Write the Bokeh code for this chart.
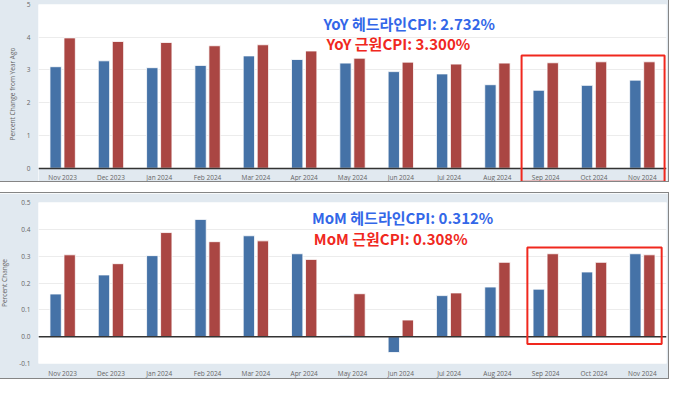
from bokeh.plotting import figure
from bokeh.layouts import column
from bokeh.models import (Range1d, FixedTicker, BoxAnnotation, Label, Span,
                          ColumnDataSource, PrintfTickFormatter)
from bokeh.transform import dodge
from bokeh.embed import file_html
from bokeh.resources import INLINE

months = ["Nov 2023", "Dec 2023", "Jan 2024", "Feb 2024", "Mar 2024", "Apr 2024",
          "May 2024", "Jun 2024", "Jul 2024", "Aug 2024", "Sep 2024", "Oct 2024",
          "Nov 2024"]
yoy_headline = [3.10, 3.28, 3.07, 3.14, 3.43, 3.32, 3.21, 2.95, 2.88, 2.55, 2.38, 2.53, 2.69]
yoy_core = [3.98, 3.87, 3.84, 3.74, 3.77, 3.58, 3.36, 3.24, 3.18, 3.21, 3.22, 3.25, 3.25]
mom_headline = [0.159, 0.230, 0.302, 0.437, 0.376, 0.309, 0.004, -0.059, 0.153, 0.185,
                0.177, 0.241, 0.309]
mom_core = [0.305, 0.272, 0.388, 0.354, 0.357, 0.288, 0.160, 0.062, 0.163, 0.277,
            0.309, 0.277, 0.305]
yoy_ticks = [0, 1, 2, 3, 4, 5]
mom_ticks = [-0.1, 0.0, 0.1, 0.2, 0.3, 0.4, 0.5]
yoy_title_head = "YoY 헤드라인CPI: 2.732%"
yoy_title_core = "YoY 근원CPI: 3.300%"
mom_title_head = "MoM 헤드라인CPI: 0.312%"
mom_title_core = "MoM 근원CPI: 0.308%"
yoy_ylabel = "Percent Change from Year Ago"
mom_ylabel = "Percent Change"

BLUE = "#4572a7"
RED = "#aa4643"
TXT_BLUE = "#3367e8"
TXT_RED = "#f0281e"
HILITE = "#f0281e"
BORDER_BG = "#e1e9f0"
LBL = "#666666"

xs = [i + 0.5 for i in range(len(months))]


def make_panel(height, ylo, yhi, ticks, ylabel, head, core, mb, fmt=None):
    p = figure(width=673, height=height, x_range=Range1d(0, len(months)),
               y_range=Range1d(ylo, yhi), output_backend="svg",
               toolbar_location=None,
               min_border_left=mb[0], min_border_right=mb[1],
               min_border_top=mb[2], min_border_bottom=mb[3],
               styles={"border": "1px solid #858585", "flex-shrink": "0"})
    p.border_fill_color = BORDER_BG
    p.background_fill_color = "white"
    p.outline_line_color = None

    src = ColumnDataSource(dict(x=xs, head=head, core=core))
    p.vbar(x=dodge("x", -0.145, range=p.x_range), top="head", bottom=0, width=0.235,
           source=src, fill_color=BLUE, line_color="white", line_width=0.8)
    p.vbar(x=dodge("x", 0.145, range=p.x_range), top="core", bottom=0, width=0.235,
           source=src, fill_color=RED, line_color="white", line_width=0.8)

    p.xaxis.ticker = FixedTicker(ticks=xs)
    p.xaxis.major_label_overrides = {x: m for x, m in zip(xs, months)}
    p.xaxis.major_tick_line_color = None
    p.xaxis.minor_tick_line_color = None
    p.xaxis.major_tick_out = 0
    p.xaxis.major_tick_in = 0
    p.xaxis.major_label_standoff = 5
    p.yaxis.ticker = FixedTicker(ticks=ticks)
    if fmt:
        p.yaxis.formatter = PrintfTickFormatter(format=fmt)
    p.yaxis.axis_line_color = None
    p.yaxis.major_tick_line_color = None
    p.yaxis.minor_tick_line_color = None
    p.yaxis.major_tick_out = 0
    p.yaxis.major_tick_in = 0
    p.yaxis.major_label_standoff = 8
    p.yaxis.axis_label = ylabel
    p.yaxis.axis_label_standoff = 7
    for ax in (p.xaxis[0], p.yaxis[0]):
        ax.major_label_text_font = "Open Sans"
        ax.major_label_text_font_size = "6.5px"
        ax.major_label_text_color = LBL
        ax.axis_label_text_font = "Open Sans"
        ax.axis_label_text_font_size = "6.5px"
        ax.axis_label_text_font_style = "normal"
        ax.axis_label_text_color = LBL
    p.xgrid.visible = False
    p.ygrid.ticker = FixedTicker(ticks=ticks)
    p.ygrid.grid_line_color = "#ececec"
    return p


def add_titles(p, x1, y1, t1, x2, y2, t2):
    for x, y, t, c in ((x1, y1, t1, TXT_BLUE), (x2, y2, t2, TXT_RED)):
        p.add_layout(Label(x=x, y=y, text=t, text_font="Noto Sans CJK KR",
                           text_font_style="bold", text_font_size="15px",
                           text_color=c, text_baseline="middle"))


# ---- top panel: YoY ----
p1 = make_panel(186, -0.467, 5, yoy_ticks, yoy_ylabel, yoy_headline, yoy_core,
                (32, 1, 7, 0))
p1.xaxis.fixed_location = 0
p1.xaxis.axis_line_color = "#333333"
p1.xaxis.axis_line_width = 1.5
p1.add_layout(BoxAnnotation(top=0, fill_color=BORDER_BG, fill_alpha=1,
                            line_color=None, level="underlay"))
add_titles(p1, 5.90, 4.42, yoy_title_head, 5.96, 3.81, yoy_title_core)
p1.add_layout(BoxAnnotation(left=10.0, right=12.96, top=3.44, bottom=-0.41,
                            fill_color=None, fill_alpha=0, line_color=HILITE,
                            line_alpha=1, line_width=2))

# ---- bottom panel: MoM ----
p2 = make_panel(187, -0.1, 0.5, mom_ticks, mom_ylabel, mom_headline, mom_core,
                (38, 4, 9, 15), fmt="%.1f")
p2.xaxis.axis_line_color = None
p2.add_layout(Span(location=0, dimension="width", line_color="#333333", line_width=1.5))
add_titles(p2, 5.66, 0.444, mom_title_head, 5.70, 0.367, mom_title_core)
p2.add_layout(BoxAnnotation(left=10.12, right=12.9, top=0.332, bottom=-0.027,
                            fill_color=None, fill_alpha=0, line_color=HILITE,
                            line_alpha=1, line_width=2))

layout = column(p1, p2, spacing=10,
                styles={"position": "relative", "left": "-4px", "top": "-4px",
                        "margin-right": "-8px", "margin-bottom": "-8px"})

open("out.html", "w").write(file_html(layout, INLINE))
